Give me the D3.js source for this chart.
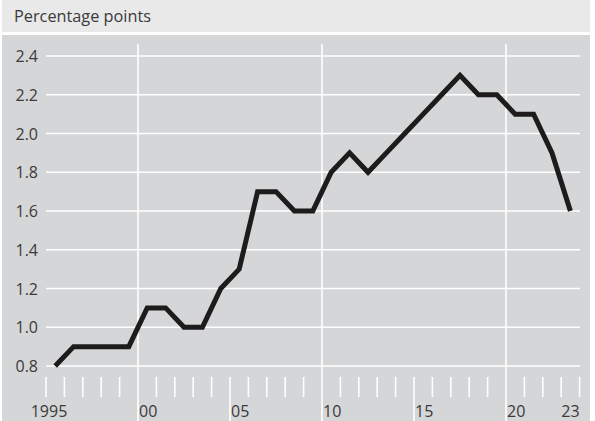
<!DOCTYPE html>
<html><head><meta charset="utf-8">
<script src="https://cdn.jsdelivr.net/npm/d3@7"></script>
<style>html,body{margin:0;padding:0;background:#fff;}svg{display:block;font-family:"Open Sans","Noto Sans",sans-serif;}</style>
</head><body>
<script>
const years = d3.range(1995, 2024);
const values = [0.8,0.9,0.9,0.9,0.9,1.1,1.1,1.0,1.0,1.2,1.3,1.7,1.7,1.6,1.6,1.8,1.9,1.8,1.9,2.0,2.1,2.2,2.3,2.2,2.2,2.1,2.1,1.9,1.6];
const yTicks = [0.8,1.0,1.2,1.4,1.6,1.8,2.0,2.2,2.4];
const xLabelYears = [1995,2000,2005,2010,2015,2020,2023];
const xLabelText = ["1995","00","05","10","15","20","23"];
const unitLabel = "Percentage points";

const W=595,H=421;
const svg=d3.select("body").append("svg").attr("width",W).attr("height",H);
svg.append("rect").attr("x",2).attr("y",0).attr("width",588).attr("height",32).attr("fill","#e9e9ea");
svg.append("rect").attr("x",2).attr("y",35).attr("width",588).attr("height",H-35).attr("fill","#d5d6d8");
svg.append("text").attr("x",14).attr("y",22).attr("font-size",16.3).attr("fill","#3a3a3a").text(unitLabel);

const x=d3.scaleBand().domain(years).range([46,579.6]).padding(0);
const y=d3.scaleLinear().domain([0.8,2.4]).range([366,56]);
const gx=d=>x(d);
const bw=x.bandwidth();

svg.append("g").selectAll("line").data(yTicks).join("line")
 .attr("x1",46).attr("x2",580).attr("y1",d=>y(d)).attr("y2",d=>y(d))
 .attr("stroke","#fff").attr("stroke-width",1.6);
svg.append("g").selectAll("text").data(yTicks).join("text")
 .attr("x",38).attr("y",d=>y(d)+6).attr("text-anchor","end").attr("font-size",16).attr("fill","#3a3a3a")
 .text(d=>d.toFixed(1));
svg.append("g").selectAll("line").data([2000,2010,2020]).join("line")
 .attr("x1",d=>gx(d)).attr("x2",d=>gx(d)).attr("y1",44).attr("y2",H)
 .attr("stroke","#fff").attr("stroke-width",1.6);
const tickYears=years.concat([2024]).filter(d=>d!==2000&&d!==2010&&d!==2020);
svg.append("g").selectAll("line").data(tickYears).join("line")
 .attr("x1",d=>d===2024?579.6:gx(d)).attr("x2",d=>d===2024?579.6:gx(d))
 .attr("y1",377).attr("y2",d=>(d===2005||d===2015)?H:397)
 .attr("stroke","#fff").attr("stroke-width",1.6);
svg.append("g").selectAll("text").data(xLabelYears).join("text")
 .attr("x",(d,i)=>d===1995?gx(d)+3:d===2023?gx(d)+bw:gx(d)+1)
 .attr("y",417).attr("font-size",16).attr("fill","#3a3a3a")
 .attr("text-anchor",(d,i)=>d===1995?"middle":d===2023?"end":"start")
 .text((d,i)=>xLabelText[i]);
const line=d3.line().x((d,i)=>gx(years[i])+bw/2).y(d=>y(d));
svg.append("path").datum(values).attr("d",line).attr("fill","none")
 .attr("stroke","#1d1b1b").attr("stroke-width",5).attr("stroke-linejoin","miter").attr("stroke-linecap","butt");
</script>
</body></html>
